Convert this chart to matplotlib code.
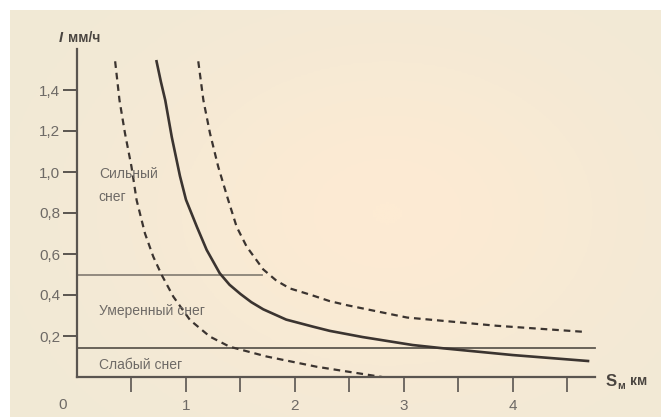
import numpy as np
import matplotlib
matplotlib.use("Agg")
import matplotlib.pyplot as plt
from matplotlib.colors import LinearSegmentedColormap

# visibility distance S_m (km) vs snowfall intensity I (mm/h)
mid_s = [0.73, 0.77, 0.81, 0.87, 0.945, 1.0, 1.10, 1.19, 1.31, 1.40, 1.50, 1.60, 1.71, 1.92,
         2.17, 2.32, 2.62, 3.08, 3.36, 4.00, 4.69]
mid_i = [1.54, 1.44, 1.35, 1.17, 0.98, 0.865, 0.733, 0.62, 0.506, 0.45, 0.405, 0.365, 0.33, 0.28,
         0.245, 0.225, 0.195, 0.156, 0.14, 0.107, 0.078]

low_s = [0.35, 0.39, 0.44, 0.50, 0.547, 0.624, 0.70, 0.777, 0.884, 1.037, 1.22, 1.40,
         1.74, 2.20, 2.50, 2.80]
low_i = [1.54, 1.35, 1.19, 1.026, 0.863, 0.70, 0.587, 0.498, 0.392, 0.278, 0.197, 0.148,
         0.10, 0.05, 0.025, 0.0]

high_s = [1.113, 1.16, 1.22, 1.296, 1.388, 1.465, 1.557, 1.709, 1.83, 1.954, 2.15, 2.32, 2.48,
          3.03, 3.85, 4.66]
high_i = [1.54, 1.35, 1.19, 1.026, 0.863, 0.733, 0.636, 0.525, 0.47, 0.432, 0.40, 0.37, 0.35,
          0.29, 0.25, 0.22]

# category boundaries
heavy_limit = 0.5
heavy_limit_end = 1.7
light_limit = 0.14
light_limit_end = 4.75

y_ticks = [0.2, 0.4, 0.6, 0.8, 1.0, 1.2, 1.4]
x_ticks = [0.5, 1, 1.5, 2, 2.5, 3, 3.5, 4, 4.5]
x_labels = ["", "1", "", "2", "", "3", "", "4", ""]

W, H = 661, 417
plt.rcParams["font.family"] = ["Liberation Sans", "DejaVu Sans"]

fig = plt.figure(figsize=(W / 100, H / 100), dpi=100, facecolor="white")

# beige panel with a soft peach glow in the middle
bg = fig.add_axes([10 / W, 0, (W - 10) / W, (H - 10) / H])
yy, xx = np.mgrid[0:1:200j, 0:1:300j]
glow = np.exp(-(((xx - 0.58) / 0.38) ** 2 + ((yy - 0.5) / 0.45) ** 2))
cmap = LinearSegmentedColormap.from_list("bg", ["#f1e9d6", "#fdebd3"])
bg.imshow(glow, cmap=cmap, aspect="auto", extent=[0, 1, 0, 1], vmin=0, vmax=1)
bg.set_axis_off()

ax = fig.add_axes([77 / W, 40 / H, 523 / W, 328 / H])
ax.patch.set_alpha(0)
ax.set_xlim(0, 4.8)
ax.set_ylim(0, 1.6)

axis_col = "#5a5550"
text_col = "#6e6a66"
curve_col = "#3b3430"

for side in ("top", "right"):
    ax.spines[side].set_visible(False)
ax.spines["left"].set_bounds(0, 1.6)
ax.spines["bottom"].set_bounds(0, 4.75)
for side in ("left", "bottom"):
    ax.spines[side].set_color(axis_col)
    ax.spines[side].set_linewidth(1.6)

ax.set_yticks(y_ticks)
ax.set_yticklabels([f"{v:.1f}".replace(".", ",") for v in y_ticks])
ax.set_xticks(x_ticks)
ax.set_xticklabels(x_labels)
ax.tick_params(axis="y", direction="out", length=10, width=1.4, color=axis_col,
               labelcolor=text_col, labelsize=11, pad=2)
ax.tick_params(axis="x", direction="out", length=11, width=1.2, color=axis_col,
               labelcolor=text_col, labelsize=11, pad=5)

ax.plot([0, heavy_limit_end], [heavy_limit, heavy_limit], color="#8a8378", lw=1.3)
ax.plot([0, light_limit_end], [light_limit, light_limit], color="#5e5850", lw=1.3)

ax.plot(mid_s, mid_i, color=curve_col, lw=1.9, solid_joinstyle="round")
ax.plot(low_s, low_i, color=curve_col, lw=1.6, dashes=(3, 2.2))
ax.plot(high_s, high_i, color=curve_col, lw=1.6, dashes=(3, 2.2))

ax.text(0.2, 0.99, "Сильный", fontsize=10, color=text_col, va="center")
ax.text(0.2, 0.88, "снег", fontsize=10, color=text_col, va="center")
ax.text(0.2, 0.32, "Умеренный снег", fontsize=10, color=text_col, va="center")
ax.text(0.2, 0.06, "Слабый снег", fontsize=10, color=text_col, va="center")

fig.text(63 / W, 1 - 405 / H, "0", fontsize=11, color=text_col, ha="center", va="center")
fig.text(59 / W, 1 - 38 / H, "I", fontsize=10.5, color="#4a4540", style="italic",
         fontweight="bold", va="center")
fig.text(68 / W, 1 - 38 / H, "мм/ч", fontsize=10, color="#4a4540", fontweight="bold", va="center")
fig.text(606 / W, 1 - 381 / H, "S", fontsize=12, color="#4a4540", fontweight="bold", va="center")
fig.text(617 / W, 1 - 386 / H, "м", fontsize=7.5, color="#4a4540", fontweight="bold", va="center")
fig.text(630 / W, 1 - 381 / H, "км", fontsize=10, color="#4a4540", fontweight="bold", va="center")

fig.savefig("out.png", dpi=100, facecolor="white")
